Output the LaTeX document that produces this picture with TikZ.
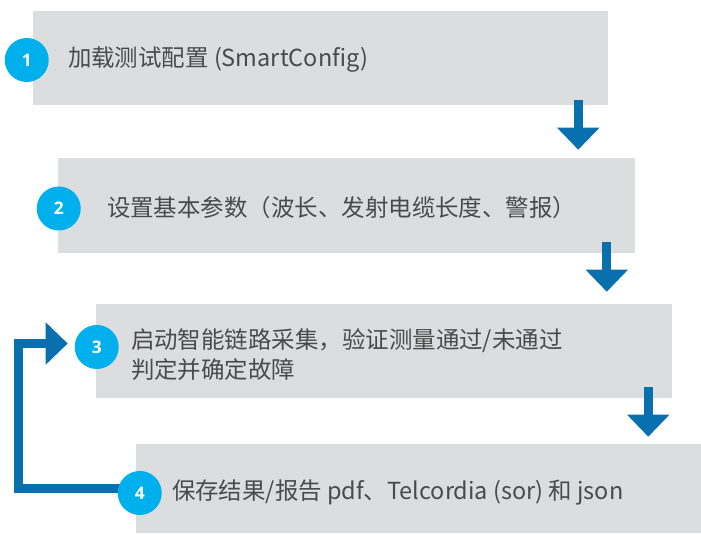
\documentclass[tikz,border=0pt]{standalone}
\usepackage{fontspec}
\setmainfont{Noto Sans CJK SC}
\newfontfamily\numfont{Open Sans}
\usetikzlibrary{arrows.meta, positioning, calc}
\definecolor{boxgray}{RGB}{220, 221, 223}
\definecolor{stepcyan}{RGB}{0, 176, 236}
\definecolor{flowblue}{RGB}{8, 112, 175}
\definecolor{textgray}{RGB}{74, 74, 74}

\begin{document}
\begin{tikzpicture}[x=0.75pt, y=-0.75pt,
    stepbox/.style={fill=boxgray, inner sep=0pt},
    stepnum/.style={circle, fill=stepcyan, minimum size=33pt, inner sep=0pt,
        text=white, font=\numfont\bfseries\fontsize{13}{13}\selectfont},
    steptext/.style={anchor=west, inner sep=0pt, align=left, text=textgray,
        font=\fontsize{17.6}{22.5}\selectfont},
    flow/.style={draw=flowblue, line width=6.75pt, line join=miter,
        -{Triangle[width=30.75pt, length=16.5pt]}}]
    \useasboundingbox (0,0) rectangle (701,534);

    % 步骤框
    \node[stepbox, minimum width=431.25pt, minimum height=70.5pt] (box1) at (320.5,58) {};
    \node[stepbox, minimum width=432.75pt, minimum height=71.25pt] (box2) at (346.5,205.5) {};
    \node[stepbox, minimum width=432pt, minimum height=70.5pt] (box3) at (384,351) {};
    \node[stepbox, minimum width=423.75pt, minimum height=66.75pt] (box4) at (418.5,488.5) {};

    % 步骤说明
    \node[steptext] (t1) at ($(box1.west)+(35,2)$) {加载测试配置 (SmartConfig)};
    \node[steptext] (t2) at ($(box2.west)+(49,2.5)$) {设置基本参数（波长、发射电缆长度、警报）};
    \node[steptext] (t3) at ($(box3.west)+(35,4)$) {启动智能链路采集，验证测量通过/未通过\\判定并确定故障};
    \node[steptext] (t4) at ($(box4.west)+(36,4)$) {保存结果/报告 pdf、Telcordia (sor) 和 json};

    % 流程箭头
    \draw[flow] ($(box1.south east)+(-30,-5)$) -- ($(box1.south east |- box2.north)+(-30,-8)$);
    \draw[flow] ($(box2.south east)+(-28.5,-11)$) -- ($(box2.south east |- box3.north)+(-28.5,-12)$);
    \draw[flow] ($(box3.south east)+(-24,-11)$) -- ($(box3.south east |- box4.north)+(-24,-7)$);

    % 返回箭头
    \draw[flow] (box4.west) -| ($(box3.west)+(-77.5,-7.5)$) -- ($(box3.west)+(-28,-7.5)$);

    % 编号
    \node[stepnum] (c1) at ($(box1.west)+(-6,2)$) {1};
    \node[stepnum] (c2) at ($(box2.west)+(1,3)$) {2};
    \node[stepnum] (c3) at ($(box3.west)+(1,-4)$) {3};
    \node[stepnum] (c4) at ($(box4.west)+(4,4.5)$) {4};
\end{tikzpicture}
\end{document}
